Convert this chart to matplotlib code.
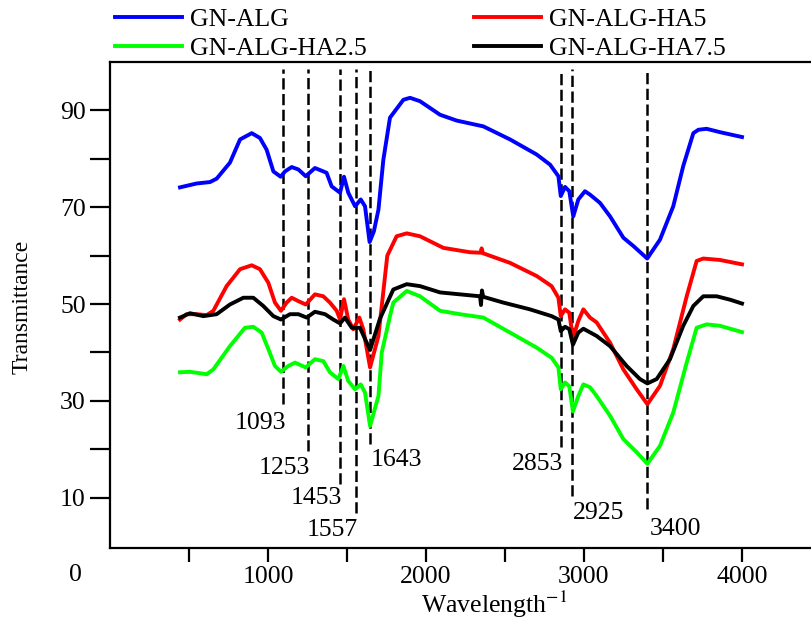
import matplotlib
matplotlib.use("Agg")
import matplotlib.pyplot as plt

# FTIR spectra
gn_alg_x = [443, 548, 633, 675, 759, 823, 897, 949, 991, 1034, 1080, 1108, 1150, 1192,
            1239, 1297, 1350, 1371, 1403, 1456, 1481, 1508, 1551, 1587, 1614, 1643, 1670,
            1699, 1730, 1772, 1857, 1899, 1962, 2089, 2194, 2363, 2532, 2700, 2785, 2838,
            2853, 2880, 2907, 2932, 2964, 3006, 3038, 3101, 3165, 3249, 3312, 3400, 3481,
            3565, 3628, 3692, 3724, 3776, 3861, 4000]
gn_alg_y = [74.1, 74.9, 75.2, 75.9, 79.2, 84.0, 85.3, 84.3, 81.9, 77.4, 76.3, 77.4, 78.3, 77.8,
            76.4, 78.1, 77.4, 77.1, 74.3, 73.0, 76.3, 73.0, 70.2, 71.6, 70.2, 62.8, 65.0,
            69.5, 79.8, 88.5, 92.2, 92.6, 91.9, 89.1, 87.9, 86.7, 84.0, 80.9, 78.8, 76.4,
            72.3, 74.2, 73.3, 68.1, 71.6, 73.3, 72.6, 70.9, 68.1, 63.7, 62.0, 59.4, 63.3,
            70.2, 78.5, 85.3, 86.0, 86.2, 85.5, 84.5]

ha5_x = [443, 485, 548, 612, 654, 738, 823, 897, 949, 1002, 1044, 1082, 1118, 1150, 1192,
         1239, 1297, 1350, 1392, 1435, 1456, 1481, 1508, 1540, 1578, 1603, 1646, 1699, 1755,
         1814, 1878, 1962, 2110, 2278, 2345, 2352, 2360, 2532, 2700, 2795, 2838, 2853, 2880,
         2907, 2930, 2964, 2996, 3038, 3080, 3165, 3249, 3333, 3401, 3481, 3565, 3650, 3713,
         3755, 3861, 4000]
ha5_y = [46.8, 47.9, 47.9, 47.7, 48.6, 53.7, 57.2, 58.0, 57.2, 54.4, 50.3, 48.6, 50.3, 51.3, 50.6,
         49.9, 52.0, 51.6, 50.3, 48.6, 46.8, 51.0, 46.8, 44.8, 47.2, 44.8, 36.9, 43.4, 60.0,
         64.0, 64.6, 64.0, 61.6, 60.7, 60.6, 61.5, 60.5, 58.5, 55.8, 53.7, 51.3, 47.5, 48.9,
         48.2, 42.9, 46.5, 48.9, 47.2, 46.2, 42.0, 36.5, 32.4, 29.3, 33.1, 40.7, 51.6, 58.9,
         59.4, 59.1, 58.2]

ha75_x = [443, 506, 591, 675, 759, 844, 907, 970, 1034, 1082, 1139, 1192, 1245, 1297, 1361,
          1413, 1456, 1487, 1530, 1582, 1646, 1709, 1793, 1878, 1962, 2089, 2215, 2342, 2348,
          2354, 2362, 2489, 2658, 2795, 2838, 2853, 2880, 2907, 2930, 2964, 2996, 3080, 3165,
          3270, 3354, 3401, 3460, 3544, 3628, 3692, 3755, 3840, 3924, 4000]
ha75_y = [47.2, 48.1, 47.5, 47.9, 49.9, 51.3, 51.3, 49.6, 47.5, 46.8, 47.9, 47.9, 47.2, 48.4, 47.9,
          46.8, 46.0, 47.2, 45.1, 45.1, 40.5, 47.0, 53.0, 54.1, 53.7, 52.4, 52.0, 51.6, 49.8,
          52.8, 51.5, 50.3, 48.9, 47.5, 46.8, 44.4, 45.3, 44.8, 41.6, 44.1, 44.9, 43.4, 41.3,
          37.2, 34.5, 33.6, 34.5, 38.6, 45.5, 49.6, 51.6, 51.6, 50.9, 50.1]

ha25_x = [443, 506, 612, 654, 759, 854, 907, 960, 1002, 1044, 1082, 1128, 1171, 1239, 1297,
          1350, 1392, 1445, 1477, 1508, 1551, 1587, 1614, 1646, 1699, 1720, 1772, 1793, 1878,
          1962, 2089, 2215, 2363, 2532, 2700, 2795, 2838, 2853, 2880, 2907, 2930, 2964, 2996,
          3038, 3080, 3165, 3249, 3333, 3401, 3481, 3565, 3650, 3713, 3776, 3861, 4000]
ha25_y = [35.9, 36.0, 35.5, 36.5, 41.3, 45.1, 45.3, 44.1, 40.7, 37.2, 36.0, 37.2, 37.9, 36.9, 38.6,
          38.2, 35.9, 34.5, 37.2, 34.1, 32.4, 33.4, 31.7, 24.8, 31.0, 40.0, 47.5, 50.3, 52.7,
          51.6, 48.6, 47.9, 47.2, 44.1, 41.0, 38.9, 36.9, 32.4, 33.8, 33.0, 27.8, 31.0, 33.4,
          32.8, 31.0, 26.9, 22.1, 19.4, 17.0, 20.7, 27.6, 37.9, 45.1, 45.8, 45.5, 44.2]

# marked bands: position, where the dashed line stops, label position
peaks = [1093, 1253, 1453, 1557, 1643, 2853, 2925, 3400]
peak_ends = [29.3, 19.6, 12.8, 6.8, 21.1, 20.5, 10.3, 7.7]
label_x = [949, 1101, 1304, 1405, 1810, 2703, 3090, 3580]
label_y = [25.4, 16.1, 9.9, 3.3, 17.8, 17.0, 6.9, 3.5]

plt.rcParams['font.family'] = ['Liberation Serif', 'DejaVu Serif']
plt.rcParams['mathtext.fontset'] = 'stix'
FS = 18.5

fig = plt.figure(figsize=(8.12, 6.21), dpi=100)
ax = fig.add_axes([110 / 812, 73 / 621, 711 / 812, 486 / 621])

lw = 2.8
l_blue, = ax.plot(gn_alg_x, gn_alg_y, color='#0000ff', lw=lw, label='GN-ALG', zorder=3)
l_green, = ax.plot(ha25_x, ha25_y, color='#00ff00', lw=lw, label='GN-ALG-HA2.5', zorder=3)
l_red, = ax.plot(ha5_x, ha5_y, color='#ff0000', lw=lw, label='GN-ALG-HA5', zorder=3)
l_black, = ax.plot(ha75_x, ha75_y, color='black', lw=lw, label='GN-ALG-HA7.5', zorder=3)

for p, e, tx, ty in zip(peaks, peak_ends, label_x, label_y):
    ax.plot([p, p], [e, 98.5], color='black', lw=1.8, linestyle=(0, (4.5, 1.8)), zorder=2)
    ax.text(tx, ty, str(p), ha='center', va='center', fontsize=FS)

ax.set_xlim(0, 4500)
ax.set_ylim(-0.4, 100)

ax.set_xticks([1000, 2000, 3000, 4000])
ax.set_xticks([500, 1500, 2500, 3500], minor=True)
ax.set_yticks([10, 30, 50, 70, 90])
ax.set_yticks([20, 40, 60, 80], minor=True)
ax.tick_params(axis='x', which='both', direction='out', length=10, width=1.6,
               labelsize=FS, pad=3)
ax.tick_params(axis='y', which='both', direction='out', length=14.5, width=1.6,
               labelsize=FS, pad=3)
for s in ax.spines.values():
    s.set_linewidth(1.6)

# the "0" sits well left of the axis in the original
ax.text(-0.049, -0.056, '0', transform=ax.transAxes, ha='center', va='center', fontsize=FS)

fig.text(22 / 812, 1 - 307 / 621, 'Transmittance', rotation=90, ha='center', va='center',
         fontsize=17)
fig.text(494 / 812, 0.002, r'Wavelength$^{-1}$', ha='center', va='bottom', fontsize=FS)

leg_kw = dict(loc='upper left', frameon=False, fontsize=FS, borderpad=0, borderaxespad=0,
              handlelength=2.6, handletextpad=0.3, labelspacing=0.22)
fig.legend(handles=[l_blue, l_green], bbox_to_anchor=(115 / 812, 1 - 8 / 621), **leg_kw)
fig.legend(handles=[l_red, l_black], bbox_to_anchor=(474 / 812, 1 - 8 / 621), **leg_kw)

fig.savefig('out.png', dpi=100)
